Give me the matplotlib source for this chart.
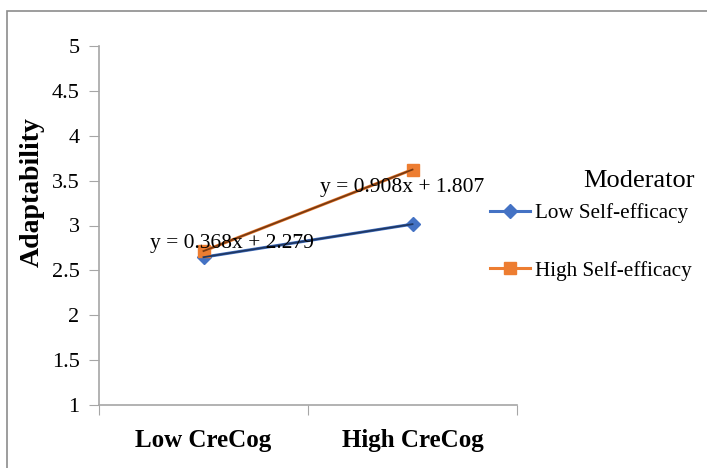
import matplotlib.pyplot as plt
from matplotlib.patches import Rectangle

plt.rcParams['font.family'] = ['Liberation Serif', 'DejaVu Serif']

# data
categories = ['Low CreCog', 'High CreCog']
x_pos = [1, 2]
low_self_eff = [2.647, 3.015]
high_self_eff = [2.715, 3.623]
low_eq = 'y = 0.368x + 2.279'
high_eq = 'y = 0.908x + 1.807'
y_ticks = [1, 1.5, 2, 2.5, 3, 3.5, 4, 4.5, 5]
y_ticklabels = ['1', '1.5', '2', '2.5', '3', '3.5', '4', '4.5', '5']

fig = plt.figure(figsize=(7.07, 4.68), dpi=100)
ax = fig.add_axes([99 / 707, 1 - 405 / 468, 418 / 707, 359 / 468])

# outer chart border (cropped at right/bottom)
fig.patches.append(Rectangle((6.5 / 707, -0.1), 1.2, 1 - 10.5 / 468 + 0.1,
                             transform=fig.transFigure, fill=False,
                             edgecolor='#8c8c8c', linewidth=1.2))

blue = '#4472C4'
orange = '#ED7D31'

ax.plot(x_pos, low_self_eff, color=blue, linewidth=2.2, marker='D',
        markersize=7, label='Low Self-efficacy', zorder=3)
ax.plot(x_pos, high_self_eff, color=orange, linewidth=2.2, marker='s',
        markersize=9, label='High Self-efficacy', zorder=3)

# trendlines (two points, so the fit passes through them)
ax.plot(x_pos, low_self_eff, color='#1F3864', linewidth=1.3, zorder=4)
ax.plot(x_pos, high_self_eff, color='#7A3A10', linewidth=1.3, zorder=4)

ax.text(0.744, 2.80, low_eq, fontsize=15.5, va='center', ha='left', zorder=5)
ax.text(1.557, 3.42, high_eq, fontsize=15.5, va='center', ha='left', zorder=5)

ax.set_xlim(0.5, 2.5)
ax.set_ylim(1, 5)
ax.set_yticks(y_ticks)
ax.set_yticklabels(y_ticklabels, fontsize=16)
ax.set_xticks([0.5, 1.5, 2.5])
ax.set_xticklabels([])
ax.set_xticks(x_pos, minor=True)
ax.set_xticklabels(categories, minor=True, fontsize=18, fontweight='bold')
ax.tick_params(axis='x', which='minor', length=0, pad=17)
ax.tick_params(axis='x', which='major', length=7, color='#a6a6a6')
ax.tick_params(axis='y', length=7, pad=7, color='#a6a6a6')

for side in ['top', 'right']:
    ax.spines[side].set_visible(False)
for side in ['left', 'bottom']:
    ax.spines[side].set_color('#a6a6a6')
    ax.spines[side].set_linewidth(1.2)

ax.set_ylabel('Adaptability', fontsize=20, fontweight='bold')
ax.yaxis.set_label_coords(-0.13, 0.593)

fig.text(695 / 707, 1 - 181 / 468, 'Moderator', fontsize=19,
         ha='right', va='center')
fig.legend(loc='upper left', bbox_to_anchor=(490 / 707, 1 - 203 / 468),
           frameon=False, fontsize=15.2, labelspacing=1.8,
           handlelength=1.9, handletextpad=0.25, borderaxespad=0,
           borderpad=0)

fig.savefig('out.png', dpi=100)
